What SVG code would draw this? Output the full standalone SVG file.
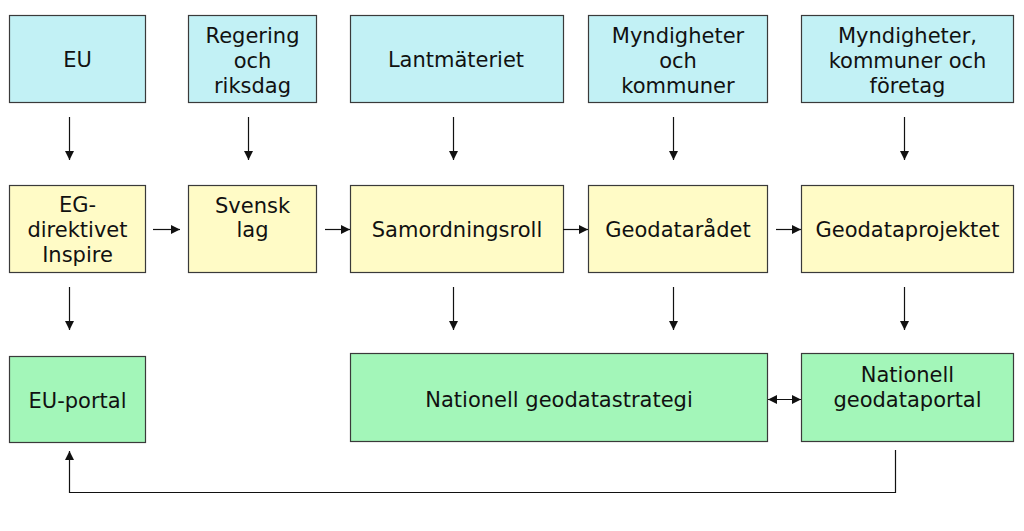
<svg xmlns="http://www.w3.org/2000/svg" width="1024" height="531" viewBox="0 0 1024 531">
<style>
rect{stroke:#3a3a3a;stroke-width:1.2}
.b{fill:#c2f1f5}
.y{fill:#fffbc6}
.g{fill:#a3f6b9}
text{font-family:"DejaVu Sans","Verdana",sans-serif;font-size:21px;fill:#111;text-anchor:middle}
.c line,.c path{stroke:#111;stroke-width:1.2;fill:none}
</style>
<defs>
<marker id="a" viewBox="0 0 10 10" refX="10" refY="5" markerWidth="9" markerHeight="9" markerUnits="userSpaceOnUse" orient="auto-start-reverse">
<path d="M0,0 L10,5 L0,10 z" fill="#111"/>
</marker>
</defs>
<rect width="1024" height="531" fill="#fff" style="stroke:none"/>
<g id="n-eu"><rect class="b" x="9.5" y="15.5" width="136" height="87"/><text x="77.5" y="67">EU</text></g>
<g id="n-regering"><rect class="b" x="188.5" y="15.5" width="128" height="87"/><text x="252.5" y="43">Regering</text><text x="252.5" y="68">och</text><text x="252.5" y="93">riksdag</text></g>
<g id="n-lantmateriet"><rect class="b" x="350.5" y="15.5" width="213" height="87"/><text x="456" y="67">Lantmäteriet</text></g>
<g id="n-myndkom"><rect class="b" x="588.5" y="15.5" width="179" height="87"/><text x="678" y="43">Myndigheter</text><text x="678" y="68">och</text><text x="678" y="93">kommuner</text></g>
<g id="n-myndkomfor"><rect class="b" x="801.5" y="15.5" width="212" height="87"/><text x="907.5" y="43">Myndigheter,</text><text x="907.5" y="68">kommuner och</text><text x="907.5" y="93">företag</text></g>

<g id="n-eg"><rect class="y" x="9.5" y="185.5" width="136" height="87"/><text x="77.5" y="212">EG-</text><text x="77.5" y="237">direktivet</text><text x="77.5" y="262">Inspire</text></g>
<g id="n-svensk"><rect class="y" x="188.5" y="185.5" width="128" height="87"/><text x="252.5" y="213">Svensk</text><text x="252.5" y="237">lag</text></g>
<g id="n-samordning"><rect class="y" x="350.5" y="185.5" width="213" height="87"/><text x="457" y="237">Samordningsroll</text></g>
<g id="n-geodataradet"><rect class="y" x="588.5" y="185.5" width="179" height="87"/><text x="678" y="237">Geodatarådet</text></g>
<g id="n-geodataprojektet"><rect class="y" x="801.5" y="185.5" width="212" height="87"/><text x="907.5" y="237">Geodataprojektet</text></g>

<g id="n-euportal"><rect class="g" x="9.5" y="356.5" width="136" height="86"/><text x="77.5" y="408">EU-portal</text></g>
<g id="n-strategi"><rect class="g" x="350.5" y="353.5" width="417" height="88"/><text x="559" y="407">Nationell geodatastrategi</text></g>
<g id="n-portal"><rect class="g" x="801.5" y="353.5" width="212" height="88"/><text x="907.5" y="382">Nationell</text><text x="907.5" y="407">geodataportal</text></g>

<g id="connectors" class="c">
<line x1="69.5" y1="117" x2="69.5" y2="160" marker-end="url(#a)"/>
<line x1="248.5" y1="117" x2="248.5" y2="160" marker-end="url(#a)"/>
<line x1="453.5" y1="117" x2="453.5" y2="160" marker-end="url(#a)"/>
<line x1="673.5" y1="117" x2="673.5" y2="160" marker-end="url(#a)"/>
<line x1="904.5" y1="117" x2="904.5" y2="160" marker-end="url(#a)"/>
<line x1="153" y1="229.5" x2="180" y2="229.5" marker-end="url(#a)"/>
<line x1="325" y1="229.5" x2="350" y2="229.5" marker-end="url(#a)"/>
<line x1="563" y1="229.5" x2="588" y2="229.5" marker-end="url(#a)"/>
<line x1="776" y1="229.5" x2="801" y2="229.5" marker-end="url(#a)"/>
<line x1="69.5" y1="287" x2="69.5" y2="330" marker-end="url(#a)"/>
<line x1="453.5" y1="287" x2="453.5" y2="330" marker-end="url(#a)"/>
<line x1="673.5" y1="287" x2="673.5" y2="330" marker-end="url(#a)"/>
<line x1="904.5" y1="287" x2="904.5" y2="330" marker-end="url(#a)"/>
<line x1="768" y1="399.5" x2="801" y2="399.5" marker-start="url(#a)" marker-end="url(#a)"/>
<path d="M895.5,450 V492.5 H69.5 V451" marker-end="url(#a)"/>
</g>
</svg>
